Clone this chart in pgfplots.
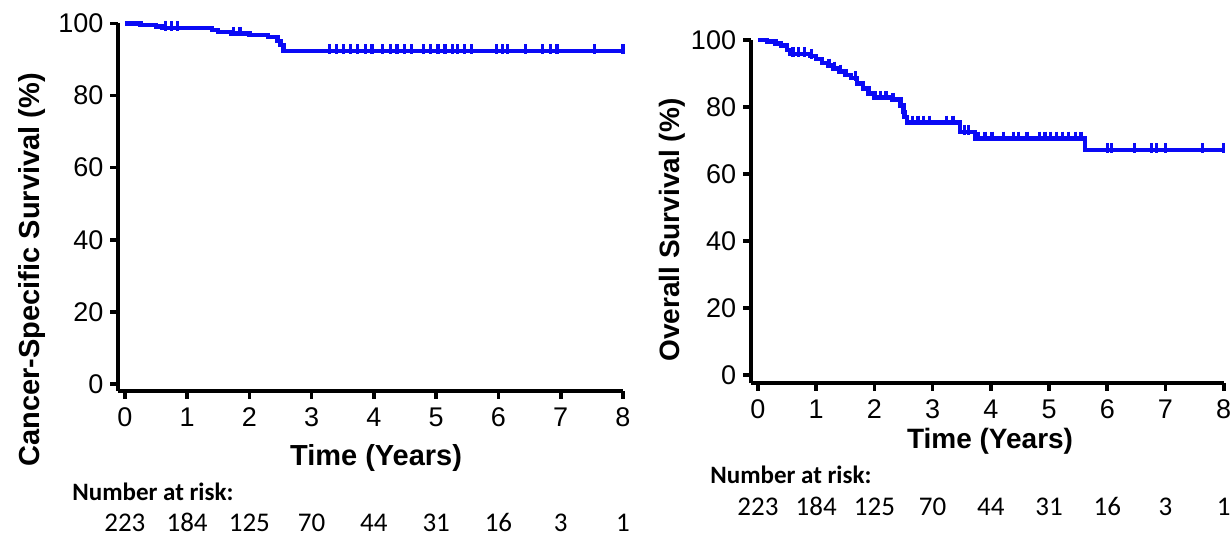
\documentclass[border=0pt]{standalone}
\usepackage{fontspec}
\setmainfont{Liberation Sans}
\newfontfamily\calib{Carlito}
\usepackage{pgfplots}
\pgfplotsset{compat=1.18}

\definecolor{kmblue}{RGB}{10,10,245}

\pgfplotsset{
  kmaxis/.style={
    scale only axis,
    clip=false,
    axis lines*=left,
    axis line style={line width=2pt},
    tick style={line width=1.8pt, black},
    tick align=outside,
    major tick length=3.8pt,
    xmax=8, ymax=100,
    xtick={0,...,8}, ytick={0,20,...,100},
    /pgf/number format/assume math mode=true,
    tick label style={font=\fontsize{13.5}{14}\selectfont},
    xticklabel style={yshift=-1pt},
  },
  kmline/.style={kmblue, line width=2.2pt, const plot, mark=none},
  kmcens/.style={kmblue, only marks, mark=|, mark size=2.4pt,
    mark options={line width=1.6pt, yshift=1pt}},
}
\tikzset{
  riskhead/.style={anchor=base west, inner sep=0pt, font=\calib\bfseries\fontsize{12.5}{13}\selectfont},
  risknum/.style={anchor=base, inner sep=0pt, font=\calib\fontsize{13.5}{14}\selectfont},
}

\begin{document}
\begin{tikzpicture}
\path[use as bounding box] (-59pt,-72pt) rectangle (557pt,195.5pt);

% cancer-specific survival
\begin{axis}[kmaxis,
  width=252.5pt, height=183.75pt,
  xmin=-0.11, ymin=-1.94,
  xlabel={\bfseries Time (Years)},
  ylabel={\bfseries Cancer-Specific Survival (\%)},
  xlabel style={font=\fontsize{14.5}{15}\selectfont, at={(axis description cs:0.511,-0.182)}, anchor=center},
  ylabel style={font=\fontsize{14.5}{15}\selectfont, at={(axis description cs:-0.170,0.33)}, anchor=center, rotate=0},
]
\addplot[kmline] coordinates {
  (0,100) (0.25,99.6) (0.5,99.2) (0.6,98.7) (1.4,98.2) (1.5,97.7)
  (1.7,97.2) (2.0,96.8) (2.3,96.3) (2.45,95.2) (2.5,94) (2.55,92.4) (8,92.4)
};
\addplot[kmcens] coordinates {
  (0.65,98.7) (0.75,98.7) (0.85,98.7) (1.75,97.2) (1.85,97.2)
  (3.29,92.4) (3.4,92.4) (3.51,92.4) (3.63,92.4) (3.74,92.4) (3.86,92.4)
  (3.97,92.4) (4.14,92.4) (4.26,92.4) (4.37,92.4) (4.49,92.4) (4.6,92.4)
  (4.8,92.4) (4.91,92.4) (5.03,92.4) (5.14,92.4) (5.26,92.4) (5.34,92.4)
  (5.46,92.4) (5.57,92.4) (5.97,92.4) (6.06,92.4) (6.14,92.4) (6.43,92.4)
  (6.71,92.4) (6.83,92.4) (6.94,92.4) (7.54,92.4) (8.0,92.4)
};
\node[riskhead] at ([xshift=-23pt, yshift=-54.5pt]axis cs:-0.11,-1.94) {Number at risk:};
\node[risknum] at ([yshift=-70pt]axis cs:0,-1.94) {223};
\node[risknum] at ([yshift=-70pt]axis cs:1,-1.94) {184};
\node[risknum] at ([yshift=-70pt]axis cs:2,-1.94) {125};
\node[risknum] at ([yshift=-70pt]axis cs:3,-1.94) {70};
\node[risknum] at ([yshift=-70pt]axis cs:4,-1.94) {44};
\node[risknum] at ([yshift=-70pt]axis cs:5,-1.94) {31};
\node[risknum] at ([yshift=-70pt]axis cs:6,-1.94) {16};
\node[risknum] at ([yshift=-70pt]axis cs:7,-1.94) {3};
\node[risknum] at ([yshift=-70pt]axis cs:8,-1.94) {1};
\end{axis}

% overall survival
\begin{axis}[kmaxis,
  at={(316.35pt,4pt)},
  width=236.5pt, height=171.5pt,
  xmin=-0.125, ymin=-2.4,
  xlabel={\bfseries Time (Years)},
  ylabel={\bfseries Overall Survival (\%)},
  xlabel style={font=\fontsize{14}{15}\selectfont, at={(axis description cs:0.506,-0.169)}, anchor=center},
  ylabel style={font=\fontsize{14}{15}\selectfont, at={(axis description cs:-0.166,0.446)}, anchor=center, rotate=0},
]
\addplot[kmline] coordinates {
  (0,100) (0.15,99.5) (0.3,99) (0.4,98.3) (0.5,97) (0.55,95.8) (0.9,95.3)
  (1.0,94.3) (1.1,93.2) (1.2,92.4) (1.3,91.5) (1.4,90.6) (1.5,89.6)
  (1.6,88.6) (1.7,87) (1.8,85.5) (1.9,84) (2.0,82.8) (2.3,82.2)
  (2.45,80.5) (2.5,78.5) (2.52,77) (2.56,75.4) (3.47,72.6) (3.73,70.6)
  (5.62,67.2) (8,67.2)
};
\addplot[kmcens] coordinates {
  (0.6,95.8) (0.7,95.8) (0.8,95.8) (0.92,95.3) (1.22,92.4) (1.32,91.5)
  (1.42,90.6) (1.68,88.6) (2.1,82.8) (2.2,82.8) (2.32,82.2)
  (2.66,75.4) (2.75,75.4) (2.85,75.4) (2.95,75.4) (3.24,75.4) (3.35,75.4)
  (3.55,72.6) (3.62,72.6) (3.78,70.6) (3.9,70.6) (4.02,70.6) (4.22,70.6)
  (4.39,70.6) (4.48,70.6) (4.62,70.6) (4.83,70.6) (4.93,70.6) (5.03,70.6)
  (5.13,70.6) (5.23,70.6) (5.33,70.6) (5.45,70.6) (5.55,70.6)
  (6.0,67.2) (6.07,67.2) (6.47,67.2) (6.76,67.2) (6.85,67.2) (7.0,67.2)
  (7.63,67.2) (8.0,67.2)
};
\node[riskhead] at ([xshift=-20.35pt, yshift=-50pt]axis cs:-0.125,-2.4) {Number at risk:};
\node[risknum] at ([yshift=-66pt]axis cs:0,-2.4) {223};
\node[risknum] at ([yshift=-66pt]axis cs:1,-2.4) {184};
\node[risknum] at ([yshift=-66pt]axis cs:2,-2.4) {125};
\node[risknum] at ([yshift=-66pt]axis cs:3,-2.4) {70};
\node[risknum] at ([yshift=-66pt]axis cs:4,-2.4) {44};
\node[risknum] at ([yshift=-66pt]axis cs:5,-2.4) {31};
\node[risknum] at ([yshift=-66pt]axis cs:6,-2.4) {16};
\node[risknum] at ([yshift=-66pt]axis cs:7,-2.4) {3};
\node[risknum] at ([yshift=-66pt]axis cs:8,-2.4) {1};
\end{axis}
\end{tikzpicture}
\end{document}
